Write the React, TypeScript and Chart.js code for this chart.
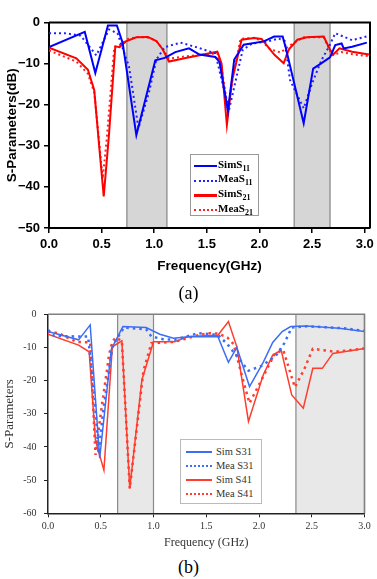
import React, { useEffect, useRef } from "react";
import { Chart, registerables } from "chart.js";

Chart.register(...registerables);

// ---------- Panel (a) data ----------
const xTicksA = [0, 0.5, 1.0, 1.5, 2.0, 2.5, 3.0];
const yTicksA = [0, -10, -20, -30, -40, -50];
const bandsA = [[0.74, 1.12], [2.33, 2.67]];

const simS11Freq = [0, 0.34, 0.44, 0.56, 0.645, 0.70, 0.83, 1.01, 1.10, 1.20, 1.33, 1.43, 1.58, 1.62, 1.70, 1.76, 1.85, 2.04, 2.14, 2.22, 2.25, 2.42, 2.51, 2.59, 2.67, 2.72, 2.78, 2.80, 2.88, 3.02];
const simS11 = [-6.0, -2.3, -12.3, -0.7, -0.7, -5, -27.4, -9.2, -8.6, -7.2, -6.3, -7.8, -8.4, -9.6, -21.5, -9, -5.4, -4.6, -3.4, -3.4, -6.2, -24.5, -11.2, -9.9, -8.5, -5.5, -5.1, -6.3, -5.9, -4.9];

const meaS11Freq = [0, 0.15, 0.30, 0.45, 0.57, 0.65, 0.76, 0.85, 0.95, 1.02, 1.10, 1.25, 1.40, 1.58, 1.71, 1.84, 1.93, 2.06, 2.18, 2.24, 2.29, 2.42, 2.50, 2.59, 2.66, 2.72, 2.88, 3.02];
const meaS11 = [-2.6, -2.6, -3.2, -8, -1.7, -2.6, -10.7, -25.7, -17, -9, -6, -4.9, -6, -7.5, -21.3, -6.7, -5.1, -4.7, -3.9, -4.5, -14, -20.9, -14.8, -9.1, -5.9, -2.6, -4.3, -3.4];

const simS21Freq = [0, 0.26, 0.37, 0.43, 0.48, 0.52, 0.57, 0.63, 0.67, 0.73, 0.83, 0.94, 1.02, 1.08, 1.14, 1.31, 1.60, 1.64, 1.69, 1.74, 1.83, 1.95, 2.02, 2.14, 2.23, 2.28, 2.36, 2.45, 2.61, 2.67, 2.70, 2.76, 2.88, 3.04];
const simS21 = [-6.1, -8.7, -11.5, -16.5, -31, -42.3, -27.3, -5.8, -6, -4.6, -3.6, -3.5, -4.5, -6.5, -9.5, -8.6, -7.1, -10, -24.9, -14, -4.2, -3.8, -4, -7.8, -9.9, -6.5, -4.2, -3.6, -3.4, -6.6, -7.8, -6.3, -7.1, -7.8];

const meaS21Freq = [0, 0.26, 0.37, 0.43, 0.48, 0.51, 0.55, 0.62, 0.67, 0.75, 0.85, 0.95, 1.02, 1.08, 1.14, 1.31, 1.60, 1.64, 1.70, 1.75, 1.82, 1.95, 2.02, 2.10, 2.20, 2.32, 2.42, 2.61, 2.69, 2.78, 2.90, 3.04];
const meaS21 = [-6.8, -9.5, -12.5, -17, -30, -38, -28, -6, -5.5, -4, -3.5, -3.7, -4.5, -6.5, -8.8, -8.2, -7.5, -11, -21, -13, -4, -3.7, -4.5, -6.5, -7.3, -5, -3.6, -3.6, -8, -7.2, -7.8, -8.2];

// ---------- Panel (b) data ----------
const xTicksB = [0, 0.5, 1.0, 1.5, 2.0, 2.5, 3.0];
const yTicksB = [0, -10, -20, -30, -40, -50, -60];
const bandsB = [[0.66, 1.0], [2.35, 3.0]];

const simS31Freq = [0, 0.29, 0.40, 0.49, 0.60, 0.71, 0.93, 1.06, 1.19, 1.33, 1.61, 1.71, 1.79, 1.91, 2.04, 2.13, 2.22, 2.30, 2.45, 2.76, 3.0];
const simS31 = [-5.2, -7.7, -3.2, -43.4, -10.5, -3.7, -4, -6, -7.2, -6.8, -6.7, -14.5, -10, -21.8, -14.5, -8.5, -5.2, -3.7, -3.5, -4.2, -5.2];

const meaS31Freq = [0, 0.06, 0.30, 0.38, 0.44, 0.48, 0.52, 0.61, 0.65, 0.72, 0.93, 0.98, 1.09, 1.20, 1.42, 1.61, 1.70, 1.77, 1.90, 2.03, 2.16, 2.24, 2.31, 2.45, 2.80, 3.0];
const meaS31 = [-4.7, -6.5, -6.7, -6.7, -25, -42, -30, -10, -7.5, -4, -4.5, -6.7, -7.5, -7.7, -5.7, -6.2, -9, -11.8, -17, -15.5, -12.5, -8.7, -4, -3.6, -4.2, -5];

const simS41Freq = [0, 0.29, 0.39, 0.45, 0.53, 0.61, 0.70, 0.775, 0.89, 1.0, 1.20, 1.33, 1.61, 1.71, 1.79, 1.90, 2.04, 2.13, 2.21, 2.31, 2.42, 2.51, 2.60, 2.70, 3.0];
const simS41 = [-6, -9.3, -11.3, -38, -47, -9.8, -8, -52.5, -19.8, -8.3, -8.3, -6.7, -6.3, -2.2, -9.8, -32.3, -18.3, -12.3, -10.8, -24.3, -28.3, -16.3, -16.3, -11.8, -10.3];

const meaS41Freq = [0, 0.10, 0.27, 0.40, 0.45, 0.50, 0.58, 0.61, 0.64, 0.70, 0.775, 0.905, 0.98, 1.20, 1.40, 1.52, 1.61, 1.70, 1.76, 1.85, 1.91, 2.02, 2.15, 2.23, 2.34, 2.43, 2.51, 2.72, 3.0];
const meaS41 = [-5.2, -5.7, -8.3, -8.5, -42.4, -30, -12, -8.3, -7, -8, -52.5, -17, -8.7, -8.3, -6.5, -5.7, -5.8, -7, -9, -20, -26.8, -20, -11.8, -10.8, -22, -16.5, -10.4, -11.3, -10.3];

// ---------- helpers ----------
const pts = (f: number[], v: number[]) => f.map((x, i) => ({ x, y: v[i] }));

const bandPlugin = {
  id: "bands",
  beforeDraw(chart: any, _args: any, opts: any) {
    const { ctx, chartArea, scales } = chart;
    const x = scales.x;
    ctx.save();
    for (const [a, b] of opts.bands) {
      const x1 = x.getPixelForValue(a);
      const x2 = x.getPixelForValue(b);
      ctx.fillStyle = opts.fill;
      ctx.fillRect(x1, chartArea.top, x2 - x1, chartArea.bottom - chartArea.top);
      ctx.strokeStyle = opts.edge;
      ctx.lineWidth = opts.edgeWidth;
      ctx.beginPath();
      ctx.moveTo(x1, chartArea.top);
      ctx.lineTo(x1, chartArea.bottom);
      ctx.moveTo(x2, chartArea.top);
      ctx.lineTo(x2, chartArea.bottom);
      ctx.stroke();
    }
    ctx.restore();
  },
  afterDraw(chart: any, _args: any, opts: any) {
    const { ctx, chartArea } = chart;
    ctx.save();
    ctx.strokeStyle = opts.frame;
    ctx.lineWidth = opts.frameWidth;
    ctx.beginPath();
    ctx.moveTo(chartArea.left, chartArea.top);
    ctx.lineTo(chartArea.right, chartArea.top);
    ctx.lineTo(chartArea.right, chartArea.bottom);
    ctx.stroke();
    ctx.restore();
  },
};

const sansBold = (size: number) => ({ family: "'Liberation Sans', Arial, sans-serif", size, weight: "bold" as const });
const serif = (size: number) => ({ family: "'Liberation Serif', 'Times New Roman', serif", size, weight: "normal" as const });

function configA(): any {
  const line = (data: any, color: string, dotted: boolean) => ({
    data,
    borderColor: color,
    borderWidth: 2,
    borderDash: dotted ? [2, 3] : [],
    pointRadius: 0,
    fill: false,
    tension: 0,
  });
  return {
    type: "line",
    data: {
      datasets: [
        line(pts(simS11Freq, simS11), "#0000ff", false),
        line(pts(meaS11Freq, meaS11), "#2020ff", true),
        line(pts(simS21Freq, simS21), "#ff0000", false),
        line(pts(meaS21Freq, meaS21), "#ff2020", true),
      ],
    },
    plugins: [bandPlugin],
    options: {
      animation: false,
      responsive: false,
      maintainAspectRatio: false,
      layout: { padding: { left: 0, right: 7, top: 22.5, bottom: 0 } },
      plugins: {
        legend: { display: false },
        tooltip: { enabled: false },
        bands: { bands: bandsA, fill: "#d6d6d6", edge: "#999999", edgeWidth: 1.5, frame: "#000", frameWidth: 2 },
      },
      scales: {
        x: {
          type: "linear",
          min: 0,
          max: 3.05,
          afterBuildTicks: (s: any) => { s.ticks = xTicksA.map((v) => ({ value: v })); },
          afterFit: (s: any) => { s.height = 54; s.paddingLeft = 0; s.paddingRight = 0; },
          grid: { drawOnChartArea: false, tickLength: 5, color: "#000", lineWidth: 1.5 },
          border: { color: "#000", width: 2 },
          ticks: { padding: 4, color: "#000", font: sansBold(13), maxRotation: 0, callback: (v: any) => Number(v).toFixed(1) },
          title: { display: true, text: "Frequency(GHz)", color: "#000", font: sansBold(13.5), padding: { top: 0, bottom: 7.5 } },
        },
        y: {
          min: -50,
          max: 0,
          afterBuildTicks: (s: any) => { s.ticks = yTicksA.map((v) => ({ value: v })); },
          afterFit: (s: any) => { s.width = 49; s.paddingTop = 0; s.paddingBottom = 0; },
          grid: { drawOnChartArea: false, tickLength: 5, color: "#000", lineWidth: 1.5 },
          border: { color: "#000", width: 2 },
          ticks: { padding: 4, color: "#000", font: sansBold(13), callback: (v: any) => (v < 0 ? "\u2212" + Math.abs(v) : String(v)) },
          title: { display: true, text: "S-Parameters(dB)", color: "#000", font: sansBold(13.5), padding: { top: 4.5, bottom: 0 } },
        },
      },
    },
  };
}

function configB(): any {
  const blue = "rgb(60,110,245)";
  const red = "rgb(255,60,45)";
  const line = (data: any, color: string, dotted: boolean) => ({
    data,
    borderColor: color,
    borderWidth: dotted ? 2.5 : 1.5,
    borderDash: dotted ? [2.5, 4] : [],
    pointRadius: 0,
    fill: false,
    tension: 0,
  });
  return {
    type: "line",
    data: {
      datasets: [
        line(pts(simS31Freq, simS31), blue, false),
        line(pts(meaS31Freq, meaS31), blue, true),
        line(pts(simS41Freq, simS41), red, false),
        line(pts(meaS41Freq, meaS41), red, true),
      ],
    },
    plugins: [bandPlugin],
    options: {
      animation: false,
      responsive: false,
      maintainAspectRatio: false,
      layout: { padding: { left: 0, right: 12.5, top: 14.3, bottom: 0 } },
      plugins: {
        legend: { display: false },
        tooltip: { enabled: false },
        bands: { bands: bandsB, fill: "#e8e8e8", edge: "#8a8a8a", edgeWidth: 1.2, frame: "#808080", frameWidth: 1.5 },
      },
      scales: {
        x: {
          type: "linear",
          min: 0,
          max: 3.0,
          afterBuildTicks: (s: any) => { s.ticks = xTicksB.map((v) => ({ value: v })); },
          afterFit: (s: any) => { s.height = 41.7; s.paddingLeft = 0; s.paddingRight = 0; },
          grid: { drawOnChartArea: false, tickLength: 4, color: "#222", lineWidth: 1 },
          border: { color: "#222", width: 1.5 },
          ticks: { padding: 3, color: "#333", font: serif(10), maxRotation: 0, callback: (v: any) => Number(v).toFixed(1) },
          title: { display: true, text: "Frequency (GHz)", color: "#333", font: serif(12), padding: { top: 0, bottom: 4.5 } },
        },
        y: {
          min: -60,
          max: 0,
          afterBuildTicks: (s: any) => { s.ticks = yTicksB.map((v) => ({ value: v })); },
          afterFit: (s: any) => { s.width = 48; s.paddingTop = 0; s.paddingBottom = 0; },
          grid: { drawOnChartArea: false, tickLength: 4, color: "#222", lineWidth: 1 },
          border: { color: "#222", width: 1.5 },
          ticks: { padding: 7.5, color: "#333", font: serif(10), callback: (v: any) => String(v) },
          title: { display: true, text: "S-Parameters", color: "#333", font: serif(13), padding: { top: 2, bottom: 0 } },
        },
      },
    },
  };
}

function ChartCanvas({ make, top, height }: { make: () => any; top: number; height: number }) {
  const ref = useRef<HTMLCanvasElement | null>(null);
  useEffect(() => {
    const chart = new Chart(ref.current as HTMLCanvasElement, make());
    return () => chart.destroy();
  }, []);
  return (
    <canvas
      ref={ref}
      width={377}
      height={height}
      style={{ position: "absolute", left: 0, top, width: 377, height, display: "block" }}
    />
  );
}

type LegendItem = { label: string; sub: string; color: string; dotted: boolean };

const legendA: LegendItem[] = [
  { label: "SimS", sub: "11", color: "#0000ff", dotted: false },
  { label: "MeaS", sub: "11", color: "#2020ff", dotted: true },
  { label: "SimS", sub: "21", color: "#ff0000", dotted: false },
  { label: "MeaS", sub: "21", color: "#ff2020", dotted: true },
];

const legendB = [
  { label: "Sim S31", color: "rgb(60,110,245)", dotted: false },
  { label: "Mea S31", color: "rgb(60,110,245)", dotted: true },
  { label: "Sim S41", color: "rgb(255,60,45)", dotted: false },
  { label: "Mea S41", color: "rgb(255,60,45)", dotted: true },
];

function Sample({ color, dotted, width, thick, dotThick }: { color: string; dotted: boolean; width: number; thick: number; dotThick: number }) {
  if (dotted) {
    return <div style={{ width, height: 0, borderTop: `${dotThick}px dotted ${color}` }} />;
  }
  return <div style={{ width, height: thick, background: color }} />;
}

export default function App() {
  const rowsA = [11, 25.7, 40.3, 55];
  const rowsB = [11.5, 25.5, 39.5, 53.5];
  return (
    <div style={{ position: "absolute", left: 0, top: 0, width: 377, height: 579, background: "#fff", overflow: "hidden" }}>
      <ChartCanvas make={configA} top={0} height={282} />
      <ChartCanvas make={configB} top={300} height={255} />

      {/* Legend (a) */}
      <div style={{ position: "absolute", left: 190, top: 154, width: 69, height: 62, border: "1px solid #999", background: "#fff", boxSizing: "border-box" }}>
        {legendA.map((it, i) => (
          <div key={i} style={{ position: "absolute", left: 3, top: rowsA[i] - 7, height: 14, display: "flex", alignItems: "center", whiteSpace: "nowrap" }}>
            <Sample color={it.color} dotted={it.dotted} width={23} thick={2.5} dotThick={2.5} />
            <span style={{ marginLeft: 1, fontFamily: "'Liberation Serif', 'Times New Roman', serif", fontWeight: "bold", fontSize: 11, color: "#000", lineHeight: "14px" }}>
              {it.label}
              <span style={{ fontSize: 8, verticalAlign: -3 }}>{it.sub}</span>
            </span>
          </div>
        ))}
      </div>

      {/* Legend (b) */}
      <div style={{ position: "absolute", left: 180, top: 439, width: 82, height: 65, border: "1px solid #bbb", background: "#fff", boxSizing: "border-box" }}>
        {legendB.map((it, i) => (
          <div key={i} style={{ position: "absolute", left: 5, top: rowsB[i] - 7, height: 14, display: "flex", alignItems: "center", whiteSpace: "nowrap" }}>
            <Sample color={it.color} dotted={it.dotted} width={26} thick={2} dotThick={2.5} />
            <span style={{ marginLeft: 4, fontFamily: "'Liberation Serif', 'Times New Roman', serif", fontSize: 10.5, color: "#333", lineHeight: "14px" }}>
              {it.label}
            </span>
          </div>
        ))}
      </div>

      <div style={{ position: "absolute", left: 0, top: 283, width: 377, textAlign: "center", fontFamily: "'Liberation Serif', 'Times New Roman', serif", fontSize: 18, lineHeight: "20px", color: "#000" }}>(a)</div>
      <div style={{ position: "absolute", left: 0, top: 557, width: 377, textAlign: "center", fontFamily: "'Liberation Serif', 'Times New Roman', serif", fontSize: 18, lineHeight: "20px", color: "#000" }}>(b)</div>
    </div>
  );
}
